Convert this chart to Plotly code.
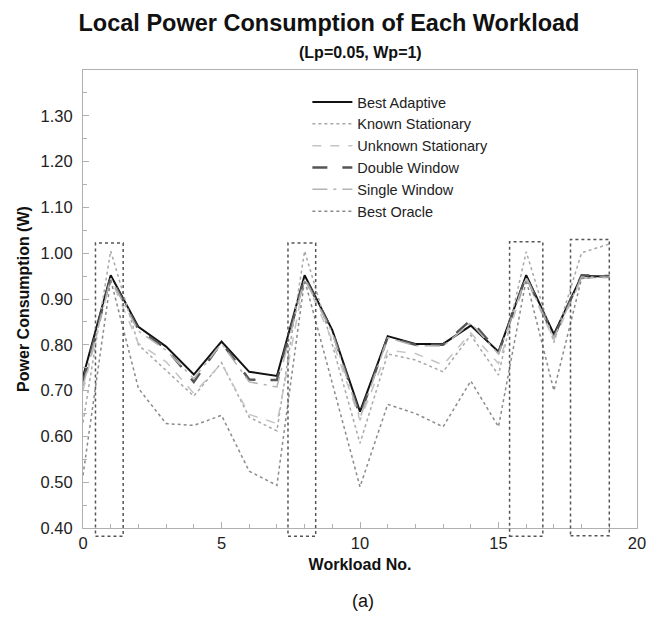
import plotly.graph_objects as go

workload = list(range(20))
best_adaptive = [0.730, 0.952, 0.839, 0.796, 0.735, 0.807, 0.741, 0.732, 0.952, 0.832,
                 0.654, 0.819, 0.802, 0.802, 0.842, 0.785, 0.952, 0.823, 0.950, 0.949]
known_stationary = [0.630, 1.005, 0.800, 0.745, 0.688, 0.761, 0.642, 0.612, 1.005, 0.800,
                    0.585, 0.780, 0.767, 0.741, 0.821, 0.734, 1.003, 0.805, 1.001, 1.020]
unknown_stationary = [0.700, 0.945, 0.803, 0.763, 0.694, 0.759, 0.648, 0.628, 0.945, 0.810,
                      0.635, 0.788, 0.781, 0.756, 0.826, 0.759, 0.945, 0.810, 0.945, 0.947]
double_window = [0.720, 0.948, 0.834, 0.792, 0.719, 0.805, 0.724, 0.723, 0.948, 0.830,
                 0.646, 0.817, 0.800, 0.800, 0.854, 0.783, 0.950, 0.818, 0.952, 0.950]
single_window = [0.710, 0.945, 0.830, 0.788, 0.726, 0.803, 0.719, 0.708, 0.945, 0.826,
                 0.640, 0.815, 0.798, 0.797, 0.848, 0.780, 0.948, 0.815, 0.948, 0.948]
best_oracle = [0.515, 0.942, 0.705, 0.628, 0.624, 0.646, 0.524, 0.493, 0.942, 0.716,
               0.490, 0.670, 0.650, 0.621, 0.721, 0.621, 0.942, 0.700, 0.945, 0.949]

y_tick_values = [0.40, 0.50, 0.60, 0.70, 0.80, 0.90, 1.00, 1.10, 1.20, 1.30]
x_tick_values = [0, 5, 10, 15, 20]

# highlighted regions: (x0, x1, y0, y1)
box_x0 = [0.45, 7.40, 15.40, 17.60]
box_x1 = [1.45, 8.40, 16.60, 19.00]
box_y0 = [0.382, 0.382, 0.382, 0.383]
box_y1 = [1.022, 1.022, 1.025, 1.030]

Y_MIN, Y_MAX = 0.40, 1.40

series = [
    ("Best Adaptive", best_adaptive, dict(color="#111111", width=2, dash="solid")),
    ("Known Stationary", known_stationary, dict(color="#a8a8a8", width=1.5, dash="dot")),
    ("Unknown Stationary", unknown_stationary, dict(color="#c4c4c4", width=1.5, dash="dash")),
    ("Double Window", double_window, dict(color="#555555", width=2.5, dash="longdash")),
    ("Single Window", single_window, dict(color="#b4b4b4", width=1.5, dash="longdashdot")),
    ("Best Oracle", best_oracle, dict(color="#8a8a8a", width=1.5, dash="dot")),
]

fig = go.Figure()
for name, vals, line in series:
    fig.add_trace(go.Scatter(x=workload, y=vals, name=name, mode="lines", line=line))

for x0, x1, y0, y1 in zip(box_x0, box_x1, box_y0, box_y1):
    fig.add_shape(type="rect", xref="x", yref="paper",
                  x0=x0, x1=x1,
                  y0=(y0 - Y_MIN) / (Y_MAX - Y_MIN), y1=(y1 - Y_MIN) / (Y_MAX - Y_MIN),
                  line=dict(color="#555555", width=1.5, dash="dot"))

font_family = "Liberation Sans, Arial, sans-serif"
axis_common = dict(
    showline=True, linecolor="#b0b0b0", linewidth=1, mirror=True,
    ticks="inside", ticklen=6, tickcolor="#b0b0b0",
    showgrid=False, zeroline=False,
    tickfont=dict(family=font_family, size=16.5, color="#222222"),
)

fig.update_layout(
    width=658, height=617,
    margin=dict(l=83, r=21, t=70, b=89),
    paper_bgcolor="white", plot_bgcolor="white",
    font=dict(family=font_family, color="#111111"),
    title=dict(text="<b>Local Power Consumption of Each Workload</b>",
               x=0.5, xanchor="center", y=1 - 23 / 617, yanchor="middle",
               font=dict(size=23.5, family=font_family, color="#111111")),
    showlegend=True,
    legend=dict(x=0.405, y=0.965, xanchor="left", yanchor="top",
                bgcolor="rgba(0,0,0,0)", font=dict(size=14.5, family=font_family, color="#222222"),
                tracegroupgap=0, itemwidth=40),
    xaxis=dict(range=[0, 20], tickvals=x_tick_values,
               minor=dict(dtick=1, ticks="inside", ticklen=4, tickcolor="#b0b0b0"),
               title=dict(text="<b>Workload No.</b>", standoff=8,
                          font=dict(size=16, family=font_family, color="#111111")),
               **axis_common),
    yaxis=dict(range=[Y_MIN, Y_MAX], tickvals=y_tick_values, tickformat=".2f",
               ticklabelstandoff=6,
               minor=dict(dtick=0.05, ticks="inside", ticklen=4, tickcolor="#b0b0b0"),
               title=dict(text="<b>Power Consumption (W)</b>", standoff=6,
                          font=dict(size=16, family=font_family, color="#111111")),
               **axis_common),
    annotations=[
        dict(text="<b>(Lp=0.05, Wp=1)</b>", xref="paper", yref="paper",
             x=0.5, y=1 + (70 - 53) / 458, xanchor="center", yanchor="middle",
             showarrow=False, font=dict(size=16, family=font_family, color="#111111")),
        dict(text="(a)", xref="paper", yref="paper",
             x=0.505, y=-(601 - 528) / 458, xanchor="center", yanchor="middle",
             showarrow=False, font=dict(size=18, family=font_family, color="#111111")),
    ],
)

fig.write_html("out.html")
